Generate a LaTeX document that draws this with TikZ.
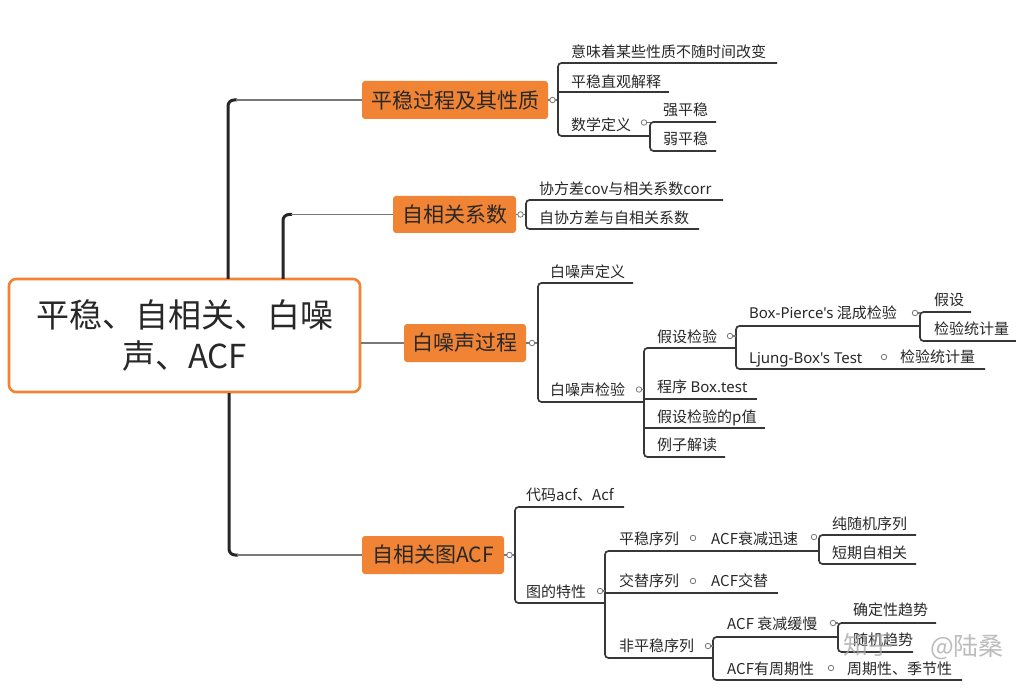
\documentclass[tikz,border=0pt]{standalone}
\usepackage{fontspec}
\setmainfont{Noto Sans CJK SC}
\newfontfamily\latf{Noto Sans}
\definecolor{orng}{RGB}{241,132,52}
\definecolor{txt}{RGB}{40,40,40}
\definecolor{lnc}{RGB}{55,55,55}
\definecolor{cnc}{RGB}{120,120,120}
\tikzset{
  lbl/.style={anchor=west, inner sep=0pt, text=txt, font=\fontsize{15}{15}\selectfont, text height=13.2pt, text depth=1.8pt},
  obox/.style={fill=orng, rounded corners=3pt, inner sep=0pt, text=txt, font=\fontsize{21}{21}\selectfont},
  uline/.style={draw=lnc, line width=1.7pt, rounded corners=3.5pt},
  conn/.style={draw=cnc, line width=1.3pt},
  trunk/.style={draw=black!85, line width=3pt, rounded corners=6pt},
  knob/.style={circle, draw=cnc, fill=white, inner sep=0pt, minimum size=5.5pt, line width=0.8pt},
  wmark/.style={inner sep=0pt, text=black!35, opacity=0.75, font=\fontsize{25}{25}\selectfont}
}
\begin{document}
\begin{tikzpicture}[x=1pt,y=-1pt]
\useasboundingbox (0,0) rectangle (1016,692);
\fill[white] (0,0) rectangle (1016,692);

% root
\node[draw=orng, line width=2.6pt, rounded corners=7pt, fill=white, minimum width=351pt, minimum height=113pt, inner sep=0pt, align=center, text=txt, font=\fontsize{33}{41}\selectfont] (root) at (184.5,335.5) {平稳、自相关、白噪\\声、ACF};

% main topics
\node[obox, minimum width=186pt, minimum height=38pt] (b1) at (455,100) {平稳过程及其性质};
\node[obox, minimum width=123pt, minimum height=37pt] (b2) at (454.5,214.5) {自相关系数};
\node[obox, minimum width=122pt, minimum height=38pt] (b3) at (465,343) {白噪声过程};
\node[obox, minimum width=142pt, minimum height=38pt] (b4) at (433,555) {自相关图ACF};

% trunks
\coordinate (r1) at (228,279);
\coordinate (r2) at (283,279);
\coordinate (r4) at (229,393);
\draw[trunk] (r1) |- (237,100);
\draw[conn] (236,100) -- (b1.west);
\draw[trunk] (r2) |- (292,214.5);
\draw[conn] (291,214.5) -- (b2.west);
\draw[conn] (root.east |- b3.west) -- (b3.west);
\draw[trunk] (r4) |- (238,555);
\draw[conn] (237,555) -- (b4.west);

% ---------- branch 1 ----------
\node[lbl] (c11) at (571,52) {意味着某些性质不随时间改变};
\node[lbl] (c12) at (571,82) {平稳直观解释};
\node[lbl] (c13) at (571,125) {数学定义};
\node[lbl] (c131) at (663,110) {强平稳};
\node[lbl] (c132) at (663,139) {弱平稳};
\draw[conn] (b1.east) -- (558,100);
\draw[uline] (777,63) -- (558,63) -- (558,136) -- (650,136);
\draw[uline] (558,92) -- (669,92);
\draw[uline] (716,122) -- (650,122) -- (650,151) -- (716,151);
\draw[conn] (644,122.5) -- (650,122.5);
\node[knob] (k1) at (552.5,100) {};
\node[knob] (k13) at (644,122.5) {};

% ---------- branch 2 ----------
\node[lbl] (c21) at (539,189) {协方差cov与相关系数corr};
\node[lbl] (c22) at (539,218) {自协方差与自相关系数};
\draw[conn] (b2.east) -- (526,214.5);
\draw[uline] (723,200) -- (526,200) -- (526,229) -- (699,229);
\node[knob] (k2) at (520.5,214.5) {};

% ---------- branch 3 ----------
\node[lbl] (c31) at (550,272) {白噪声定义};
\node[lbl] (c32) at (550,390) {白噪声检验};
\draw[conn] (b3.east) -- (538,343);
\draw[uline] (633,283) -- (538,283) -- (538,402) -- (644,402);
\node[knob] (k3) at (532,343) {};

\node[lbl] (c321) at (657,337) {假设检验};
\node[lbl] (c322) at (657,387) {程序 {\latf Box.test}};
\node[lbl] (c323) at (657,417) {假设检验的p值};
\node[lbl] (c324) at (657,445) {例子解读};
\draw[uline] (736,348) -- (644,348) -- (644,457) -- (725,457);
\draw[uline] (644,399) -- (757,399);
\draw[uline] (644,428) -- (765,428);
\draw[conn] (639,389.5) -- (644,389.5);
\node[knob] (k32) at (639,389.5) {};

\node[lbl] (c3211) at (749,313) {{\latf Box-Pierce's} 混成检验};
\node[lbl] (c3212) at (749,358) {{\latf Ljung-Box's Test}};
\draw[uline] (920,326) -- (736,326) -- (736,369) -- (985,369);
\draw[conn] (730,336) -- (736,336);
\node[knob] (k321) at (730,336) {};

\node[lbl] (c32111) at (934,300) {假设};
\node[lbl] (c32112) at (934,329) {检验统计量};
\draw[uline] (971,312) -- (920,312) -- (920,341) -- (1016,341);
\draw[conn] (915,313) -- (920,313);
\node[knob] (k3211) at (915,313) {};

\node[lbl] (c32121) at (900,357) {检验统计量};
\node[knob] (k3212) at (884,357) {};

% ---------- branch 4 ----------
\node[lbl] (c41) at (526,495) {代码acf、Acf};
\node[lbl] (c42) at (526,592) {图的特性};
\draw[conn] (b4.east) -- (515,555);
\draw[uline] (624,507) -- (515,507) -- (515,603) -- (605,603);
\node[knob] (k4) at (509.5,555) {};

\node[lbl] (c421) at (619,539) {平稳序列};
\node[lbl] (c422) at (619,581) {交替序列};
\node[lbl] (c423) at (619,646) {非平稳序列};
\draw[uline] (819,551) -- (605,551) -- (605,658) -- (713,658);
\draw[uline] (605,593) -- (778,593);
\draw[conn] (600,591) -- (605,591);
\node[knob] (k42) at (600,591) {};

\node[knob] (k421) at (693,538) {};
\node[lbl] (c4211) at (711,539) {ACF衰减迅速};
\node[knob] (k4211) at (814,537) {};
\node[lbl] (c42111) at (832,524) {纯随机序列};
\node[lbl] (c42112) at (832,553) {短期自相关};
\draw[uline] (916,535) -- (819,535) -- (819,564) -- (916,564);

\node[knob] (k422) at (693,581) {};
\node[lbl] (c4221) at (711,581) {ACF交替};

\node[lbl] (c4231) at (727,624) {ACF 衰减缓慢};
\node[lbl] (c4232) at (727,669) {ACF有周期性};
\draw[uline] (838,637) -- (713,637) -- (713,680) -- (962,680);
\draw[conn] (708,646) -- (713,646);
\node[knob] (k423) at (708,646) {};

\node[lbl] (c42311) at (853,610) {确定性趋势};
\node[lbl] (c42312) at (853,640) {随机趋势};
\draw[uline] (936,623) -- (838,623) -- (838,652) -- (913,652);
\draw[conn] (833,623) -- (838,623);
\node[knob] (k4231) at (833,623) {};

\node[knob] (k4232) at (831,668) {};
\node[lbl] (c42321) at (847,669) {周期性、季节性};

% watermark
\node[wmark, anchor=west] (wm1) at (843,645) {知乎};
\node[wmark, anchor=east] (wm2) at (1004,647) {@陆桑};
\end{tikzpicture}
\end{document}
